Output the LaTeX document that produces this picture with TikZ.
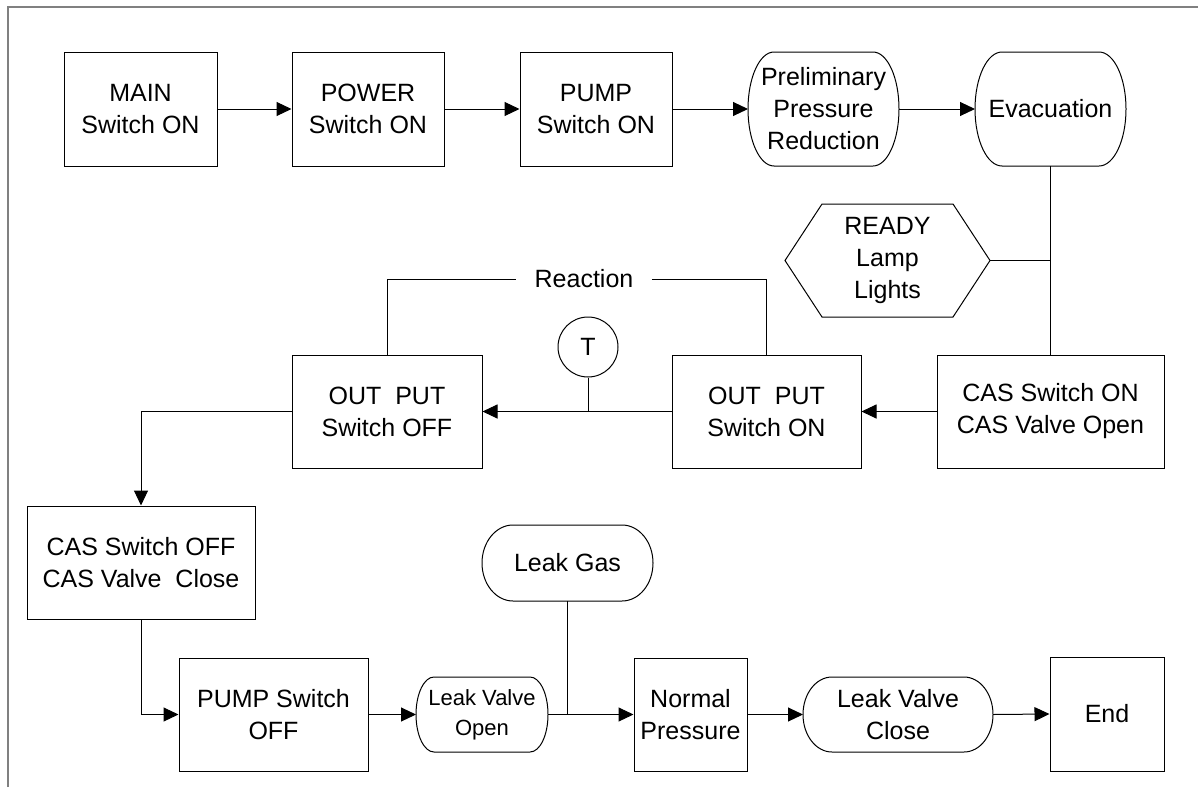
\documentclass[tikz,border=0pt]{standalone}
\usepackage{fontspec}
\setmainfont{Liberation Sans}
\usetikzlibrary{arrows.meta,calc,positioning}

% contour a bouts elliptiques autour d'un noeud
\newcommand{\termcontour}[2]{%
  \draw let \p1=(#1.north east), \p2=(#1.south east), \n1={(\y1-\y2)/2} in
    ([xshift=#2]#1.north west) -- ([xshift=-#2]#1.north east)
    arc[start angle=90, end angle=-90, x radius=#2, y radius=\n1]
    -- ([xshift=#2]#1.south west)
    arc[start angle=270, end angle=90, x radius=#2, y radius=\n1] -- cycle;}

\begin{document}
\begin{tikzpicture}[
		x=1pt, y=1pt,
		font={\fontsize{25}{32}\selectfont},
		line width=1pt,
		stepbox/.style={draw, align=center, minimum width=#1, minimum height=113pt, inner sep=0pt},
		stepbox/.default=152pt,
		termnode/.style={align=center, minimum width=#1, inner sep=0pt, outer sep=0pt},
		flow/.style={-{Triangle[length=15pt,width=14pt]}} % fleche pleine
		]
		\useasboundingbox (0,0) rectangle (1198,-787);
		
		% Le cadre
		\draw[gray, line width=1.5pt] (8,-787) |- (1198,-7);
		
		% Ligne du haut
		\node[stepbox=153pt, minimum height=114pt] (main) at (140.5,-109) {MAIN\\Switch ON};
		\node[stepbox, minimum height=114pt] (power) at (368,-109) {POWER\\Switch ON};
		\node[stepbox, minimum height=114pt] (pump) at (596,-109) {PUMP\\Switch ON};
		\node[termnode=151pt, minimum height=114pt] (prelim) at (823.5,-109) {Preliminary\\Pressure\\Reduction};
		\node[termnode=151pt, minimum height=114pt] (evac) at (1050.5,-109) {Evacuation};
		\termcontour{prelim}{26pt}
		\termcontour{evac}{27pt}
		
		% Lampe READY
		\node[align=center, minimum width=205pt, minimum height=113pt, inner sep=0pt, outer sep=0pt] (ready) at (887.5,-260.5) {READY\\Lamp\\Lights};
		\draw (ready.west) -- ([xshift=37pt]ready.north west) -- ([xshift=-37pt]ready.north east)
			-- (ready.east) -- ([xshift=-37pt]ready.south east) -- ([xshift=37pt]ready.south west) -- cycle;
		
		% Ligne du milieu
		\node[stepbox=227pt] (cason) at (1050.5,-411.5) {CAS Switch ON\\CAS Valve Open};
		\node[stepbox=189pt] (outon) at (766.5,-411.5) {OUT\ \ PUT\\Switch ON};
		\node[stepbox=190pt] (outoff) at (387,-411.5) {OUT\ \ PUT\\Switch OFF};
		\node[draw, circle, minimum size=60pt, inner sep=0pt] (tmark) at (588,-347) {T};
		\node[inner xsep=18pt, inner ysep=0pt] (reaction) at (584,-279) {Reaction};
		
		% Ligne du bas
		\node[stepbox=228pt] (casoff) at (141,-562.5) {CAS Switch OFF\\CAS Valve\ \ Close};
		\node[stepbox=189pt] (pumpoff) at (273.5,-714.5) {PUMP Switch\\OFF};
		\node[termnode=132pt, minimum height=75pt, font={\fontsize{22}{30}\selectfont}] (lvopen) at (482,-714.5) {Leak Valve\\Open};
		\node[termnode=171pt, minimum height=76pt] (leakgas) at (567.5,-563) {Leak Gas};
		\node[stepbox=113pt] (normal) at (690.5,-714.5) {Normal\\Pressure};
		\node[termnode=190pt, minimum height=75pt] (lvclose) at (898,-714.5) {Leak Valve\\Close};
		\node[stepbox=114pt, minimum height=114pt] (endbox) at (1107,-714) {End};
		\termcontour{lvopen}{18pt}
		\termcontour{leakgas}{31pt}
		\termcontour{lvclose}{29pt}
		
		% Les liaisons
		\draw[flow] (main.east) -- (power.west);
		\draw[flow] (power.east) -- (pump.west);
		\draw[flow] (pump.east) -- (prelim.west);
		\draw[flow] (prelim.east) -- (evac.west);
		\draw (evac.south) -- (cason.north);
		\draw (ready.east) -- (ready.east -| evac.south);
		\draw[flow] (cason.west) -- (outon.east);
		\draw[flow] (outon.west) -- (outoff.east);
		\draw (tmark.south) -- (tmark.south |- outon.west);
		\draw (outoff.north) |- (reaction.west);
		\draw (reaction.east) -| (outon.north);
		\draw[flow] (outoff.west) -| (casoff.north);
		\draw[flow] (casoff.south) |- (pumpoff.west);
		\draw[flow] (pumpoff.east) -- (lvopen.west);
		\draw[flow] (lvopen.east) -- (normal.west);
		\draw (leakgas.south) -- (leakgas.south |- normal.west);
		\draw[flow] (normal.east) -- (lvclose.west);
		\draw[flow] (lvclose.east) -- (endbox.west);
	\end{tikzpicture}
\end{document}
